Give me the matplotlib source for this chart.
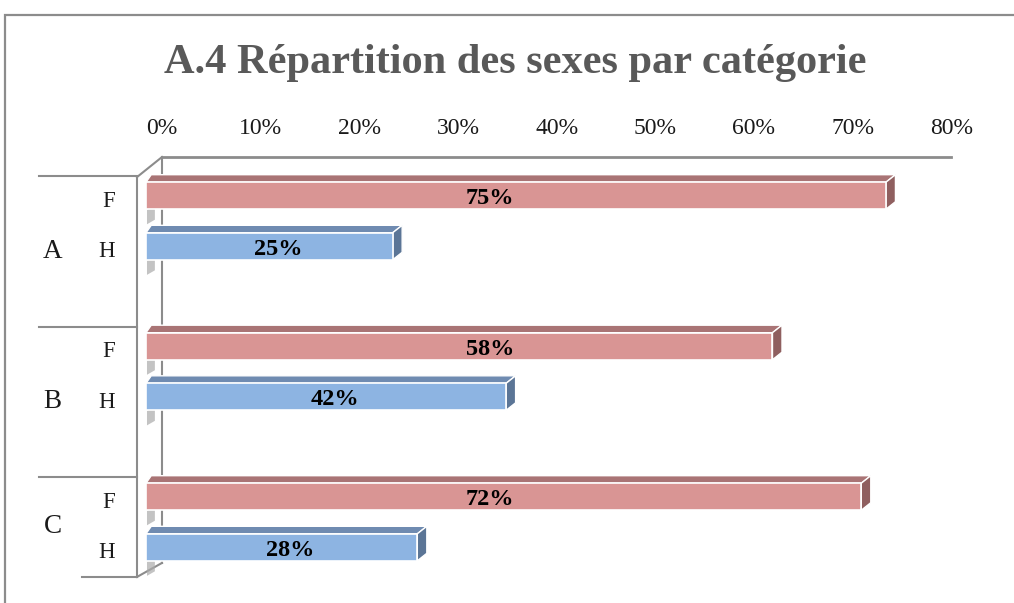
import matplotlib
matplotlib.use("Agg")
import matplotlib.pyplot as plt
from matplotlib.patches import Polygon, Rectangle

# ---------------- data ----------------
title = "A.4 Répartition des sexes par catégorie"
categories = ["A", "B", "C"]
sexes = ["F", "H"]
values_F = [75, 63.5, 72.5]
values_H = [25, 36.5, 27.5]
labels_F = ["75%", "58%", "72%"]
labels_H = ["25%", "42%", "28%"]
tick_values = [0, 10, 20, 30, 40, 50, 60, 70, 80]
tick_labels = ["0%", "10%", "20%", "30%", "40%", "50%", "60%", "70%", "80%"]

# ---------------- styles ----------------
W, H = 1014, 603
SERIF = ["Liberation Serif", "DejaVu Serif"]
front = {"F": "#D99594", "H": "#8DB4E2"}
topc = {"F": "#A97475", "H": "#6F8BB1"}
sidec = {"F": "#8F5F5F", "H": "#5B7596"}
wall_col = "#8C8C8C"

fig = plt.figure(figsize=(W / 100, H / 100), dpi=100)
ax = fig.add_axes([0, 0, 1, 1])
# x in percent (front plane), y in category units (pixel mapping y = 221 + 150.5*u)
x0_px, sx = 146.0, 9.866
y0_px, sy = 221.0, 150.5
ax.set_xlim(-x0_px / sx, (W - x0_px) / sx)
ax.set_ylim((H - y0_px) / sy, -y0_px / sy)
ax.axis("off")

# outer frame
fig.patches.append(Rectangle((5 / W, -0.05), 1.2, 1.05 - 15 / H, transform=fig.transFigure,
                             fill=False, edgecolor="#8C8C8C", lw=1.6, zorder=0))

# 3D geometry (in data units)
back_dx = 1.62          # back plane offset in %
wall_front_dx = -0.91   # front edge of the left wall
wall_top_back, wall_top_front = -0.425, -0.292
wall_bot_back, wall_bot_front = 2.272, 2.365
bar_h = 27 / sy
off = 25.3 / sy
ddx, ddy = 9.5 / sx, -7.5 / sy   # bar depth

# left wall edges
ax.plot([back_dx, back_dx], [wall_top_back, wall_bot_back], color=wall_col, lw=1.5, zorder=1)
ax.plot([wall_front_dx, wall_front_dx], [wall_top_front, wall_bot_front], color=wall_col, lw=1.5, zorder=1)
ax.plot([wall_front_dx, back_dx], [wall_top_front, wall_top_back], color=wall_col, lw=1.5, zorder=1)
ax.plot([wall_front_dx, back_dx], [wall_bot_front, wall_bot_back], color=wall_col, lw=1.5, zorder=1)
# top value axis line on back plane
ax.plot([tick_values[0] + back_dx, tick_values[-1] + back_dx], [wall_top_back, wall_top_back],
        color=wall_col, lw=2, zorder=1)

# tick labels
for tv, tl in zip(tick_values, tick_labels):
    ax.text(tv + back_dx, -0.615, tl, ha="center", va="center", fontsize=17,
            family=SERIF, color="#1a1a1a")

# category band boundaries
bounds = [-0.299, 0.704, 1.701, wall_bot_front]
cat_line_x = -98 / sx + wall_front_dx
sub_line_x = -55 / sx + wall_front_dx
for b in bounds[:-1]:
    ax.plot([cat_line_x, wall_front_dx], [b, b], color=wall_col, lw=1.5, zorder=1)
ax.plot([sub_line_x, wall_front_dx], [bounds[-1], bounds[-1]], color=wall_col, lw=1.5, zorder=1)


def draw_bar(y, v, key, label, label_x):
    ax.barh(y, v, height=bar_h, left=0, color=front[key], edgecolor="white", lw=1.2, zorder=3)
    yt, yb = y - bar_h / 2, y + bar_h / 2
    top = Polygon([(0, yt), (v, yt), (v + ddx, yt + ddy), (ddx * 0.55, yt + ddy)], closed=True,
                  facecolor=topc[key], edgecolor="white", lw=1.0, zorder=2.9)
    side = Polygon([(v, yt), (v + ddx, yt + ddy), (v + ddx, yb + ddy), (v, yb)], closed=True,
                   facecolor=sidec[key], edgecolor="white", lw=1.0, zorder=2.9)
    ax.add_patch(top)
    ax.add_patch(side)
    # small shadow on wall below the bar
    sh = Polygon([(0.1, yb + 0.005), (0.9, yb - 0.03), (0.9, yb + 0.07), (0.1, yb + 0.1)],
                 closed=True, facecolor="#AAAAAA", edgecolor="none", alpha=0.7, zorder=2)
    ax.add_patch(sh)
    ax.text(label_x, y + 0.02, label, ha="center", va="center", fontsize=17.5, fontweight="bold",
            family=SERIF, color="black", zorder=5)


for i, cat in enumerate(categories):
    yF = i - off
    yH = i + off
    draw_bar(yF, values_F[i], "F", labels_F[i], 34.9)
    draw_bar(yH, values_H[i], "H", labels_H[i], values_H[i] / 2 + 0.9)
    # sub labels
    ax.text(-3.1, yF + 0.036, sexes[0], ha="right", va="center", fontsize=16.5, family=SERIF, color="#1a1a1a")
    ax.text(-3.1, yH + 0.036, sexes[1], ha="right", va="center", fontsize=16.5, family=SERIF, color="#1a1a1a")
    ax.text(-9.45, (bounds[i] + bounds[i + 1]) / 2, cat, ha="center", va="center", fontsize=19.5,
            family=SERIF, color="#1a1a1a")

fig.text(515 / W, 1 - 63 / H, title, ha="center", va="center", fontsize=30.5, fontweight="bold",
         family=SERIF, color="#595959")

fig.savefig("out.png", dpi=100)
